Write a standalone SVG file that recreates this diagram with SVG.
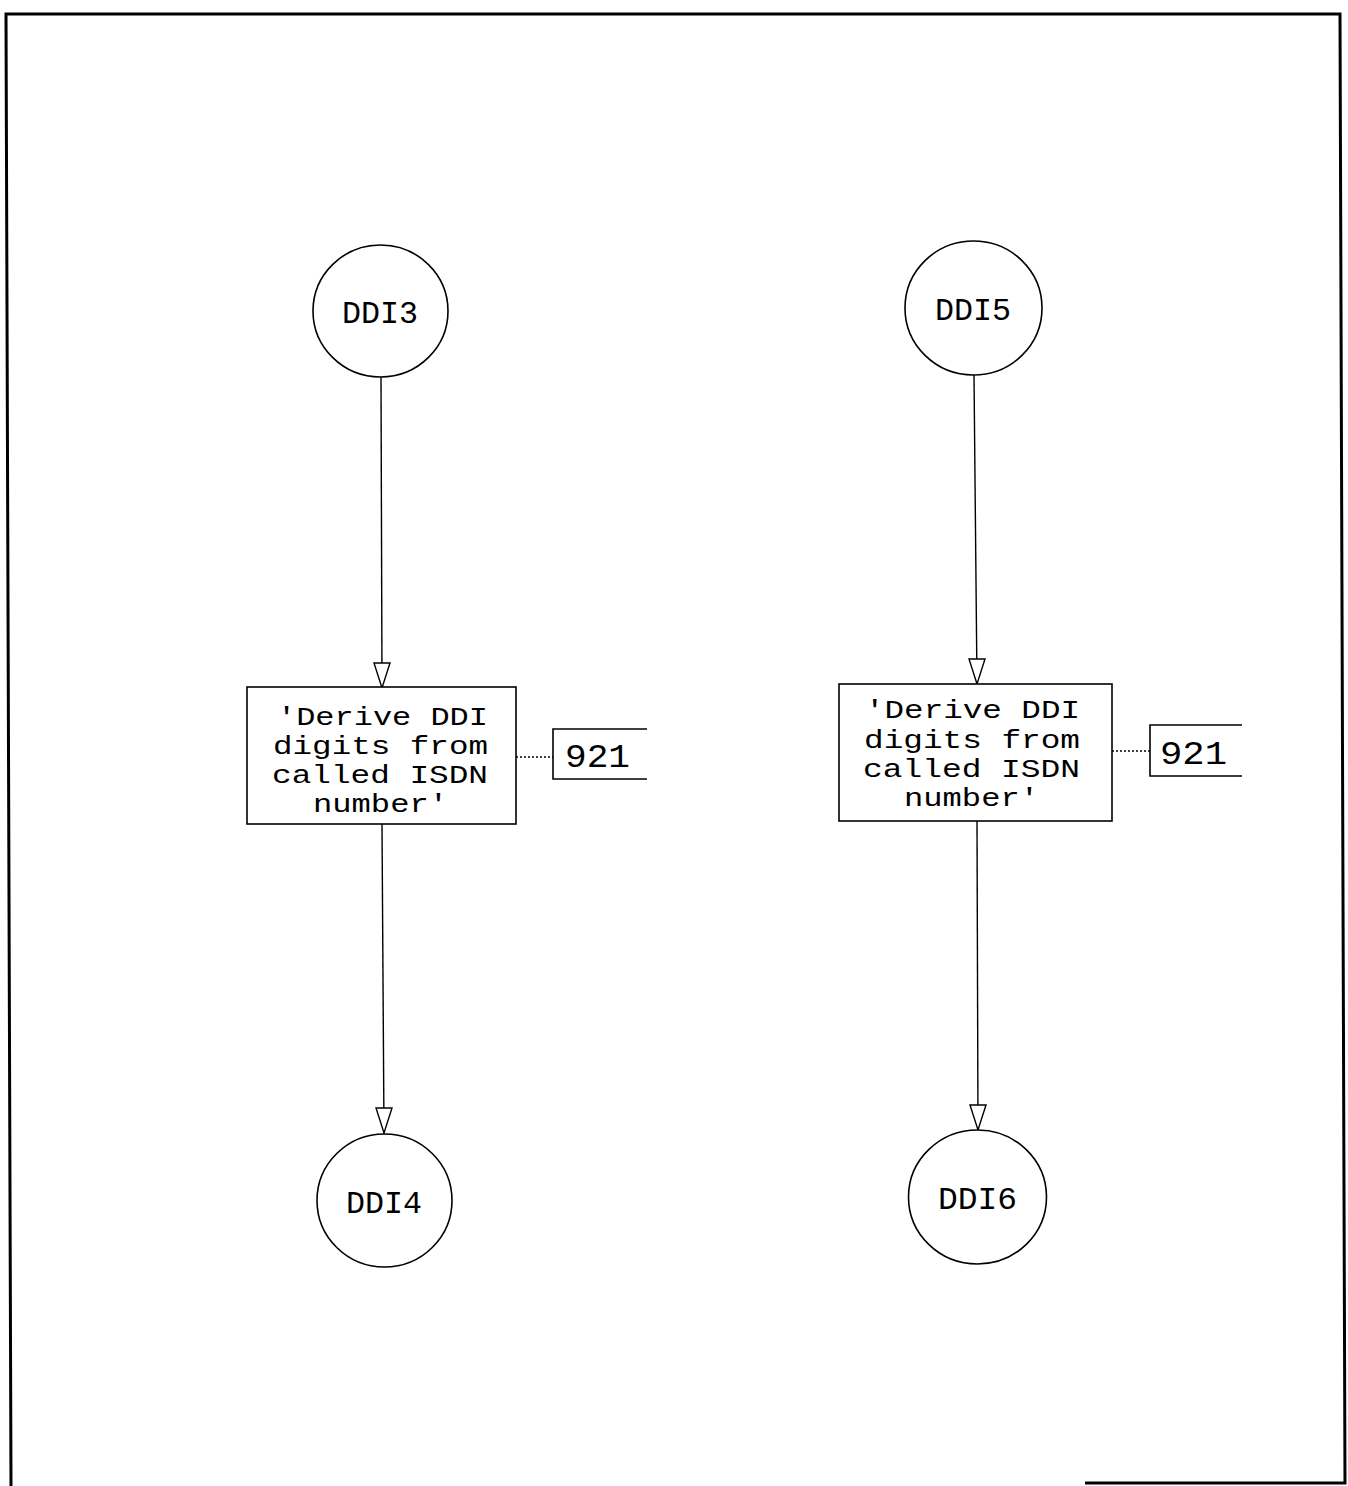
<svg xmlns="http://www.w3.org/2000/svg" width="1348" height="1486" viewBox="0 0 1348 1486">
<style>
.frame{fill:none;stroke:#000;stroke-width:3}
.shape{fill:#fff;stroke:#000;stroke-width:1.6}
.ref{fill:none;stroke:#000;stroke-width:1.6}
.conn{fill:none;stroke:#000;stroke-width:1.4}
.dot{fill:none;stroke:#000;stroke-width:1.4;stroke-dasharray:2,2}
.head{fill:#fff;stroke:#000;stroke-width:1.4}
text{font-family:"Liberation Mono","DejaVu Sans Mono",monospace;fill:#000;text-anchor:start}
.lbl{font-size:31px}
.box{font-size:26px}
.num{font-size:34px}
</style>
<rect width="1348" height="1486" fill="#fff"/>
<g id="frame">
<path class="frame" d="M11,1486 L6,14 L1340,14 L1345,1483 L1085,1483"/>
</g>
<g id="connectors">
<line class="conn" x1="381" y1="377" x2="382" y2="688"/>
<polygon class="head" points="374,663 390,663 382,688"/>
<line class="conn" x1="382" y1="824" x2="384" y2="1133"/>
<polygon class="head" points="376,1108 392,1108 384,1133"/>
<line class="dot" x1="516" y1="757" x2="553" y2="757"/>
<line class="conn" x1="974" y1="375" x2="977" y2="684"/>
<polygon class="head" points="969,659 985,659 977,684"/>
<line class="conn" x1="977" y1="821" x2="978" y2="1130"/>
<polygon class="head" points="970,1105 986,1105 978,1130"/>
<line class="dot" x1="1112" y1="751" x2="1150" y2="751"/>
</g>
<g id="DDI3">
<ellipse class="shape" cx="380.5" cy="311" rx="67.5" ry="66"/>
<text class="lbl" x="342" y="323" textLength="76" lengthAdjust="spacingAndGlyphs">DDI3</text>
</g>
<g id="box1">
<rect class="shape" x="247" y="687" width="269" height="137"/>
<text class="box" x="277" y="725" textLength="211" lengthAdjust="spacingAndGlyphs">'Derive DDI</text>
<text class="box" x="273" y="754" textLength="215" lengthAdjust="spacingAndGlyphs">digits from</text>
<text class="box" x="272" y="783" textLength="216" lengthAdjust="spacingAndGlyphs">called ISDN</text>
<text class="box" x="313" y="812" textLength="135" lengthAdjust="spacingAndGlyphs">number'</text>
</g>
<g id="ref1">
<path class="ref" d="M647,729 L553,729 L553,779 L647,779"/>
<text class="num" x="565" y="767" textLength="65" lengthAdjust="spacingAndGlyphs">921</text>
</g>
<g id="DDI4">
<ellipse class="shape" cx="384.5" cy="1200.5" rx="67.5" ry="66.5"/>
<text class="lbl" x="346" y="1213" textLength="76" lengthAdjust="spacingAndGlyphs">DDI4</text>
</g>
<g id="DDI5">
<ellipse class="shape" cx="973.5" cy="308" rx="68.5" ry="67"/>
<text class="lbl" x="935" y="320" textLength="76" lengthAdjust="spacingAndGlyphs">DDI5</text>
</g>
<g id="box2">
<rect class="shape" x="839" y="684" width="273" height="137"/>
<text class="box" x="865" y="718" textLength="215" lengthAdjust="spacingAndGlyphs">'Derive DDI</text>
<text class="box" x="864" y="748" textLength="216" lengthAdjust="spacingAndGlyphs">digits from</text>
<text class="box" x="863" y="777" textLength="217" lengthAdjust="spacingAndGlyphs">called ISDN</text>
<text class="box" x="904" y="806" textLength="135" lengthAdjust="spacingAndGlyphs">number'</text>
</g>
<g id="ref2">
<path class="ref" d="M1242,725 L1150,725 L1150,776 L1242,776"/>
<text class="num" x="1160" y="764" textLength="67" lengthAdjust="spacingAndGlyphs">921</text>
</g>
<g id="DDI6">
<ellipse class="shape" cx="977.5" cy="1197" rx="69" ry="67"/>
<text class="lbl" x="938" y="1209" textLength="79" lengthAdjust="spacingAndGlyphs">DDI6</text>
</g>
</svg>
